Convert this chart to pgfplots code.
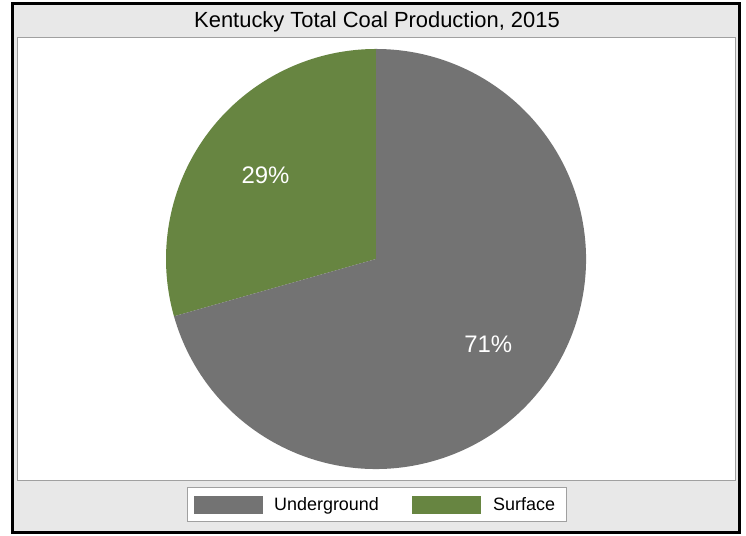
\documentclass[border=0pt]{standalone}
\usepackage{pgfplots}
\usepackage{pgfplotstable}
\pgfplotsset{compat=1.18}
\usepackage{fontspec}
\setmainfont{Liberation Sans}
\definecolor{under}{HTML}{737373}
\definecolor{surf}{HTML}{678541}
\definecolor{panel}{HTML}{E8E8E8}
\definecolor{rim}{HTML}{A0A0A0}

% shares of 2015 production, percent
\pgfplotstableread{
source share
Underground 70.6
Surface 29.4
}\coaldata

\begin{document}
\begin{tikzpicture}[x=1bp,y=1bp]
\pgfplotstablegetelem{0}{share}\of\coaldata \let\ushare\pgfplotsretval
\pgfplotstablegetelem{1}{share}\of\coaldata \let\sshare\pgfplotsretval
\pgfmathsetmacro{\splitang}{90+3.6*\sshare}
\pgfmathsetmacro{\smid}{90+1.8*\sshare}
\pgfmathsetmacro{\umid}{\splitang+1.8*\ushare}

\path (0,0) rectangle (746,536);
\draw[line width=3bp, fill=panel] (12.5,3.5) rectangle (739.5,532.5);
\draw[rim, fill=white, line width=1bp] (17,55) rectangle (735,498);
\node[anchor=base, inner sep=0pt, font=\fontsize{22}{26}\selectfont] at (377,508.5)
  {Kentucky Total Coal Production, 2015};

\begin{axis}[
  hide axis, scale only axis,
  width=420bp, height=420bp,
  xmin=-1, xmax=1, ymin=-1, ymax=1,
  at={(376bp,277bp)}, anchor=center,
  clip=false,
  /pgf/number format/assume math mode=true,
]
\fill[surf] (axis cs:0,0) -- (axis cs:0,1)
  arc[start angle=90, end angle=\splitang, radius=210bp] -- cycle;
\fill[under] (axis cs:0,0) -- ++(\splitang:210bp)
  arc[start angle=\splitang, end angle=450, radius=210bp] -- cycle;
\node[white, font=\fontsize{24}{28}\selectfont]
  at (axis cs:{0.66*cos(\smid)},{0.66*sin(\smid)})
  {\pgfmathprintnumber[fixed,precision=0,assume math mode=true]{\sshare}\%};
\node[white, font=\fontsize{24}{28}\selectfont]
  at (axis cs:{0.67*cos(\umid)},{0.67*sin(\umid)})
  {\pgfmathprintnumber[fixed,precision=0,assume math mode=true]{\ushare}\%};
\end{axis}

% legend
\draw[rim, fill=white, line width=1bp] (187,14) rectangle (566,48);
\fill[under] (194,22) rectangle (263,40);
\fill[surf] (412,22) rectangle (481,40);
\node[anchor=base west, inner sep=0pt, font=\fontsize{18}{21}\selectfont] at (274,25) {Underground};
\node[anchor=base west, inner sep=0pt, font=\fontsize{18}{21}\selectfont] at (493,25) {Surface};
\end{tikzpicture}
\end{document}
